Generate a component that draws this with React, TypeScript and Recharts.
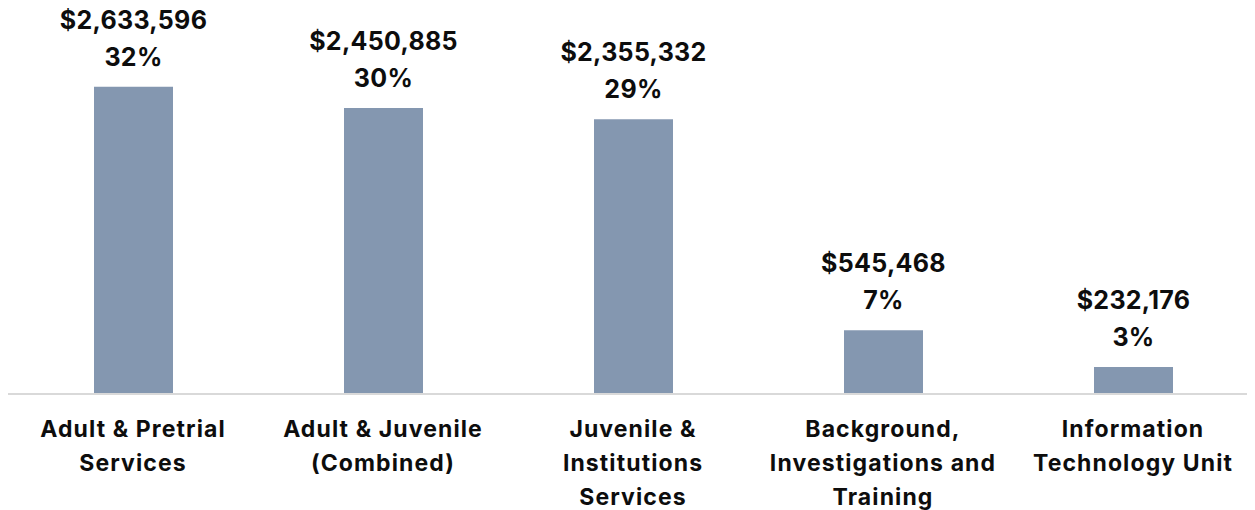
import React from "react";
import { BarChart, Bar, XAxis, YAxis, LabelList } from "recharts";

const categories = [
  "Adult & Pretrial Services",
  "Adult & Juvenile (Combined)",
  "Juvenile & Institutions Services",
  "Background, Investigations and Training",
  "Information Technology Unit",
];
const categoryLines = [
  ["Adult & Pretrial", "Services"],
  ["Adult & Juvenile", "(Combined)"],
  ["Juvenile &", "Institutions", "Services"],
  ["Background,", "Investigations and", "Training"],
  ["Information", "Technology Unit"],
];
const amounts = [2633596, 2450885, 2355332, 545468, 232176];
const percents = ["32%", "30%", "29%", "7%", "3%"];

const data = categories.map((c, i) => ({
  name: c,
  amount: amounts[i],
  pct: percents[i],
  idx: i,
}));

const FONT = "Inter, 'Noto Sans', sans-serif";
const TEXT = "#0d0d0d";

const CategoryTick = (props: any) => {
  const { x, y, payload } = props;
  const lines = categoryLines[payload.index] || [payload.value];
  return (
    <g>
      {lines.map((l: string, i: number) => (
        <text
          key={i}
          x={x}
          y={y + 43 + i * 34}
          textAnchor="middle"
          fontFamily={FONT}
          fontWeight={700}
          fontSize={23}
          letterSpacing={1.1}
          fill={TEXT}
        >
          {l}
        </text>
      ))}
    </g>
  );
};

const ValueLabel = (props: any) => {
  const { x, y, width, index } = props;
  const cx = x + width / 2;
  return (
    <g>
      <text
        x={cx}
        y={y - 58}
        textAnchor="middle"
        fontFamily={FONT}
        fontWeight={700}
        fontSize={25}
        letterSpacing={0.3}
        fill={TEXT}
      >
        {"$" + amounts[index].toLocaleString("en-US")}
      </text>
      <text
        x={cx}
        y={y - 21}
        textAnchor="middle"
        fontFamily={FONT}
        fontWeight={700}
        fontSize={25}
        letterSpacing={0.3}
        fill={TEXT}
      >
        {percents[index]}
      </text>
    </g>
  );
};

export default function App() {
  return (
    <div style={{ width: 1250, height: 502 }}>
      <BarChart
        width={1250}
        height={502}
        data={data}
        margin={{ top: 36, right: 0, bottom: 0, left: 0 }}
        barCategoryGap={0}
      >
        <XAxis
          dataKey="name"
          height={116}
          tickLine={false}
          tickSize={0}
          tickMargin={0}
          axisLine={{ stroke: "#d9d9d9", strokeWidth: 2 }}
          tick={<CategoryTick />}
          interval={0}
        />
        <YAxis hide domain={[0, 3000000]} />
        <Bar
          dataKey="amount"
          fill="#8497B0"
          barSize={79}
          isAnimationActive={false}
        >
          <LabelList dataKey="amount" content={<ValueLabel />} />
        </Bar>
      </BarChart>
    </div>
  );
}
